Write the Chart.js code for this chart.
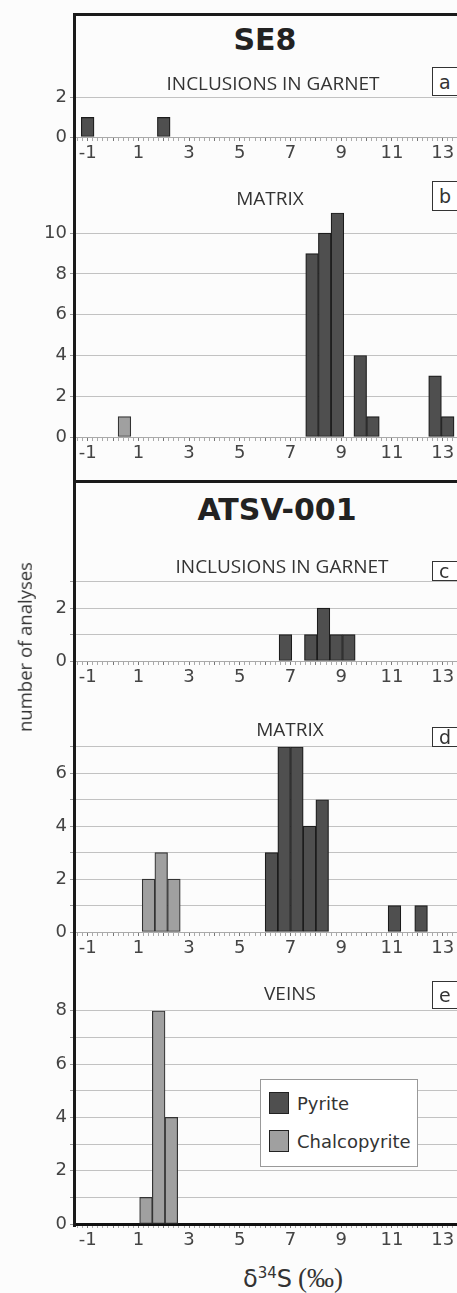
<!DOCTYPE html>
<html><head><meta charset="utf-8">
<script src="https://cdn.jsdelivr.net/npm/chart.js@4.4.1/dist/chart.umd.min.js"></script>
<style>
html,body{margin:0;padding:0;width:457px;height:1293px;overflow:hidden;background:#fcfcfc;position:relative;}
canvas{position:absolute;left:0;}
.t{position:absolute;white-space:nowrap;transform:translate(-50%,-50%);line-height:1;}
.title{font-family:"DejaVu Sans";font-weight:bold;color:#222;font-size:30px;}
.head{font-family:"Open Sans";color:#333;font-size:19px;}
.box{position:absolute;left:432px;width:30px;border:1.5px solid #333;background:#fff;box-sizing:border-box;font-family:"DejaVu Sans";color:#333;display:flex;align-items:center;padding-left:6px;font-size:19px;}
.frame{position:absolute;background:#1a1a1a;}
.leg{position:absolute;left:260px;top:1079px;width:158px;height:88px;border:1.5px solid #999;background:#fff;box-sizing:border-box;}
.sw{position:absolute;left:8px;width:20px;height:22px;box-sizing:border-box;border:1.5px solid #222;}
.lt{position:absolute;left:36px;font-family:"DejaVu Sans";font-size:18px;color:#333;line-height:1;transform:translateY(-50%);}
</style></head>
<body>
<canvas id="pa"></canvas><canvas id="pb"></canvas><canvas id="pc"></canvas><canvas id="pd"></canvas><canvas id="pe"></canvas>

<div class="frame" style="left:73px;top:13px;width:3px;height:1214px"></div>
<div class="frame" style="left:73px;top:13px;width:400px;height:3px"></div>
<div class="frame" style="left:73px;top:480px;width:400px;height:3px"></div>

<div class="t title" style="left:265px;top:40px">SE8</div>
<div class="t head" style="left:273px;top:83px">INCLUSIONS IN GARNET</div>
<div class="t head" style="left:270px;top:198px">MATRIX</div>
<div class="t title" style="left:277px;top:510px">ATSV-001</div>
<div class="t head" style="left:282px;top:566px">INCLUSIONS IN GARNET</div>
<div class="t head" style="left:290px;top:729px">MATRIX</div>
<div class="t head" style="left:290px;top:993px">VEINS</div>

<div class="box" style="top:67px;height:29px">a</div>
<div class="box" style="top:181px;height:30px">b</div>
<div class="box" style="top:561px;height:20px">c</div>
<div class="box" style="top:727px;height:20px">d</div>
<div class="box" style="top:981px;height:28px">e</div>

<div class="t" style="left:25px;top:647px;transform:translate(-50%,-50%) rotate(-90deg);font-family:'Open Sans';font-size:18.5px;color:#333">number of analyses</div>
<div class="t" style="left:293px;top:1278px;font-size:24px;color:#333"><span style="font-family:'DejaVu Sans'">δ</span><span style="font-family:'DejaVu Sans';font-size:15px;vertical-align:9px">34</span><span style="font-family:'DejaVu Sans'">S</span> <span style="font-family:'Liberation Serif';font-size:27px">(‰)</span></div>

<div class="leg">
  <div class="sw" id="sw1" style="top:12px"></div><div class="lt" style="top:24px" id="lt1"></div>
  <div class="sw" id="sw2" style="top:50px"></div><div class="lt" style="top:62px" id="lt2"></div>
</div>

<script>
// ---- data ----
const seriesNames = ["Pyrite", "Chalcopyrite"];
// bin centres (δ34S, ‰) and counts
const se8InclPyX = [-1.0, 2.0];
const se8InclPyN = [1, 1];
const se8MatPyX = [7.85, 8.35, 8.85, 9.75, 10.25, 12.7, 13.2];
const se8MatPyN = [9, 10, 11, 4, 1, 3, 1];
const se8MatCpX = [0.45];
const se8MatCpN = [1];
const atsInclPyX = [6.8, 7.8, 8.3, 8.8, 9.3];
const atsInclPyN = [1, 1, 2, 1, 1];
const atsMatPyX = [6.25, 6.75, 7.25, 7.75, 8.25, 11.1, 12.15];
const atsMatPyN = [3, 7, 7, 4, 5, 1, 1];
const atsMatCpX = [1.4, 1.9, 2.4];
const atsMatCpN = [2, 3, 2];
const atsVeinCpX = [1.3, 1.8, 2.3];
const atsVeinCpN = [1, 8, 4];
const xTickLabels = [-1, 1, 3, 5, 7, 9, 11, 13];

// ---- style ----
const PY_FILL = '#4f4f4f', PY_EDGE = '#1c1c1c';
const CP_FILL = '#a0a0a0', CP_EDGE = '#333333';
const X_MIN = -1.5, X_MAX = 14, BIN = 0.5;
const CANVAS_W = 470, AXIS_W = 75, PAD_R = 2, PAD_T = 12, XAX_H = 30;
const PLOT_W = CANVAS_W - AXIS_W - PAD_R;
const BAR_PX = BIN * PLOT_W / (X_MAX - X_MIN);

document.getElementById('sw1').style.background = PY_FILL;
document.getElementById('sw2').style.background = CP_FILL;
document.getElementById('lt1').textContent = seriesNames[0];
document.getElementById('lt2').textContent = seriesNames[1];

const minorTicks = [];
for (let k = -7; k <= 70; k++) minorTicks.push(Math.round(k * 2) / 10);

function pts(xs, ys) { return xs.map((x, i) => ({x: x, y: ys[i]})); }

function panel(id, top, bottom, yMax, py, cp, thick) {
  const c = document.getElementById(id);
  const h = PAD_T + (bottom - top) + XAX_H;
  c.width = CANVAS_W; c.height = h;
  c.style.width = CANVAS_W + 'px'; c.style.height = h + 'px';
  c.style.top = (top - PAD_T) + 'px';
  const ds = [];
  ds.push({label: seriesNames[0], data: py, backgroundColor: PY_FILL, borderColor: PY_EDGE});
  ds.push({label: seriesNames[1], data: cp, backgroundColor: CP_FILL, borderColor: CP_EDGE});
  ds.forEach(d => { d.borderWidth = 1.2; d.borderSkipped = false; d.barThickness = BAR_PX; d.skipNull = true; });
  new Chart(c, {
    type: 'bar',
    data: {datasets: ds},
    options: {
      responsive: false, animation: false, devicePixelRatio: 1,
      layout: {padding: {top: PAD_T, right: PAD_R, left: 0, bottom: 0}},
      plugins: {legend: {display: false}, tooltip: {enabled: false}},
      scales: {
        x: {
          type: 'linear', min: X_MIN, max: X_MAX, offset: false,
          afterBuildTicks: s => { s.ticks = minorTicks.map(v => ({value: v})); },
          afterFit: s => { s.height = XAX_H; },
          ticks: {
            autoSkip: false, maxRotation: 0, minRotation: 0, padding: 2, color: '#444',
            font: {family: 'DejaVu Sans', size: 18},
            callback: v => xTickLabels.some(t => Math.abs(t - v) < 1e-6) ? String(Math.round(v)) : ''
          },
          grid: {offset: false, drawOnChartArea: false, drawTicks: true, tickLength: 4,
                 tickColor: ctx => Math.abs(ctx.tick.value - Math.round(ctx.tick.value)) < 1e-6 ? '#777' : '#aaa', tickWidth: 1},
          border: {display: true, color: thick ? '#111' : '#aaa', width: thick ? 3 : 1}
        },
        y: {
          min: 0, max: yMax,
          afterBuildTicks: s => { const t = []; for (let v = 0; v <= yMax; v++) t.push({value: v}); s.ticks = t; },
          afterFit: s => { s.width = AXIS_W; },
          ticks: {color: '#444', padding: 3, font: {family: 'DejaVu Sans', size: 18},
                  callback: v => v % 2 === 0 ? String(v) : ''},
          grid: {color: '#c2c2c2', lineWidth: 1, drawTicks: true, tickLength: 5, tickColor: '#999'},
          border: {display: false}
        }
      }
    }
  });
}

panel('pa', 96, 137, 2, pts(se8InclPyX, se8InclPyN), [], false);
panel('pb', 211, 437, 11, pts(se8MatPyX, se8MatPyN), pts(se8MatCpX, se8MatCpN), false);
panel('pc', 580, 661, 3, pts(atsInclPyX, atsInclPyN), [], false);
panel('pd', 745, 932, 7, pts(atsMatPyX, atsMatPyN), pts(atsMatCpX, atsMatCpN), false);
panel('pe', 1009, 1224, 8, [], pts(atsVeinCpX, atsVeinCpN), true);
</script>
</body></html>
